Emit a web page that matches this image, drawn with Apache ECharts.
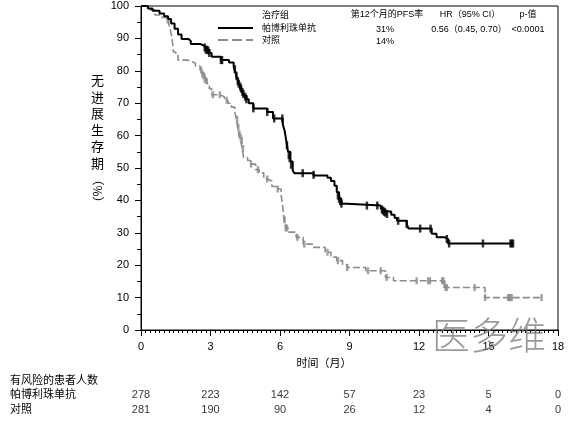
<!DOCTYPE html>
<html>
<head>
<meta charset="utf-8">
<script src="https://cdn.jsdelivr.net/npm/echarts@6/dist/echarts.min.js"></script>
<style>
  html, body { margin: 0; padding: 0; background: #fff; }
  #main { width: 572px; height: 424px; }
</style>
</head>
<body>
<div id="main"></div>
<script>
var FONT = 'Liberation Sans, Noto Sans CJK SC, sans-serif';

// KM steps [month, PFS %]
var pembroSteps = [[0,100],[0.3,99.2],[0.5,98.5],[0.8,97.7],[1.0,96.8],[1.17,96],[1.3,94.6],[1.45,93],[1.6,91.2],[1.75,89.8],
  [2.05,89.2],[2.15,88.3],[2.55,87.8],[2.7,87.2],[2.8,86.5],[2.95,85.5],[3.05,84.3],[3.45,83.3],[3.8,82.6],[4.0,81.2],
  [4.08,79.5],[4.15,77.5],[4.22,76],[4.3,74.8],[4.38,73.3],[4.45,72.3],[4.55,71.2],[4.65,70],[4.85,68.4],[5.45,67.3],
  [5.7,65.3],[6.12,63.5],[6.2,61.5],[6.28,58],[6.35,55],[6.45,52],[6.55,49.2],[6.62,48.4],[7.45,47.7],[8.05,47.0],
  [8.2,46],[8.35,44.5],[8.45,42.5],[8.55,40.5],[8.65,39],[8.9,38.4],[10.35,37.4],[10.5,36.6],[10.8,35.6],[10.95,34.6],
  [11.05,33.7],[11.47,32.7],[11.55,31.3],[12.55,29.7],[12.76,28.6],[13.12,28.1],[13.25,26.7],[16.06,26.7]];

var controlSteps = [[0,100],[0.2,99.5],[0.4,98.8],[0.6,97.2],[0.9,96.5],[1.1,95.7],[1.2,94.5],[1.27,92.5],[1.33,90.5],[1.37,88],
  [1.4,85.8],[1.5,84.8],[1.6,83.3],[2.0,82.8],[2.2,82.3],[2.35,81.5],[2.55,80.2],[2.65,79],[2.75,77.5],[2.85,76],
  [2.95,74.5],[3.05,72.6],[3.4,72],[3.6,70.9],[3.75,70],[3.9,68.8],[4.05,67.3],[4.12,65],[4.17,62.6],[4.22,60.5],
  [4.3,58.5],[4.37,56],[4.43,53.3],[4.6,52.3],[4.75,51.2],[4.95,49.5],[5.1,48.5],[5.3,46.6],[5.45,46],[5.65,44.3],
  [5.85,43.5],[6.05,41.5],[6.12,38],[6.17,34],[6.25,31.5],[6.35,30.2],[6.7,28.6],[7.0,26.5],[7.4,25.5],[7.95,24],
  [8.2,22.5],[8.45,21.4],[8.7,20.2],[8.9,19.3],[9.7,18.3],[10.55,16.2],[10.9,15.2],[13.1,13.1],[14.85,10.0],[17.29,10.0]];

// censored observations [month, PFS %]
var pembroCensor = [[2.75,87.2],[2.8,86.5],[2.85,86.5],[2.9,86.3],[2.95,85.5],[3.45,83.3],[3.5,83.3],[4.05,80.5],[4.12,78.5],
  [4.18,76.8],[4.22,76],[4.28,75.2],[4.32,74.5],[4.38,73.5],[4.42,72.8],[4.5,72],[4.55,71.2],[4.85,68.4],[5.45,67.3],
  [5.75,65.3],[6.1,65.3],[6.3,57],[6.38,54],[6.42,53],[6.48,51],[6.98,48.4],[7.45,47.9],[8.5,41.5],[8.55,40.5],
  [8.6,39.8],[8.65,39.0],[9.75,38.4],[10.2,38.4],[10.4,37.2],[10.45,36.8],[10.5,36.5],[10.55,36.2],[10.62,35.8],
  [11.1,33.7],[11.47,32.7],[12.05,31.3],[12.5,31.3],[13.2,28.1],[13.3,26.7],[14.76,26.7],[15.95,26.7],[16.0,26.7],[16.06,26.7]];

var controlCensor = [[1.15,95.7],[2.6,80.2],[2.65,79],[2.7,78.5],[2.75,77.5],[2.8,77],[3.1,72.6],[3.4,72.6],[3.7,70.9],
  [4.15,65],[4.2,62.6],[4.25,60.5],[4.3,59.5],[4.35,58.5],[4.4,56],[4.75,51.2],[5.05,49.5],[5.45,46.6],[5.9,43.5],
  [6.2,34],[6.25,31.5],[6.3,31.5],[6.75,28.6],[7.05,26.5],[8.05,24],[8.5,21.4],[8.9,19.3],[9.8,18.3],[10.35,18.3],
  [10.6,16.2],[11.9,15.2],[12.4,15.2],[12.47,15.2],[13.0,15.2],[13.05,15.2],[13.1,14],[13.15,13.1],[13.2,13.1],
  [14.4,13.1],[14.85,10],[15.85,10],[15.9,10],[15.95,10],[16.0,10],[17.29,10]];

// number at risk table
var riskTimes = [0, 3, 6, 9, 12, 15, 18];
var riskPembro = [278, 223, 142, 57, 23, 5, 0];
var riskControl = [281, 190, 90, 26, 12, 4, 0];
var groups = ['帕博利珠单抗', '对照'];

var chart = echarts.init(document.getElementById('main'));

function riskData(vals, grp) {
  return riskTimes.map(function (t, i) { return [t, grp, vals[i]]; });
}

var option = {
  animation: false,
  textStyle: { fontFamily: FONT },
  grid: [
    { left: 141, top: 6, width: 417, height: 324, show: true, borderColor: '#000', borderWidth: 1 },
    { left: 141, top: 387.5, width: 417, height: 30 }
  ],
  xAxis: [{
    gridIndex: 0, type: 'value', min: 0, max: 18, interval: 3,
    axisLine: { onZero: false, lineStyle: { color: '#000', width: 1 } },
    axisTick: { length: 6, lineStyle: { color: '#000' } },
    minorTick: { show: true, splitNumber: 15, length: 3, lineStyle: { color: '#000' } },
    splitLine: { show: false },
    axisLabel: { color: '#000', fontSize: 11, margin: 11, fontFamily: FONT }
  }, {
    gridIndex: 1, type: 'value', min: 0, max: 18, show: false
  }],
  yAxis: [{
    gridIndex: 0, type: 'value', min: 0, max: 100, interval: 10,
    axisLine: { show: true, lineStyle: { color: '#000', width: 1 } },
    axisTick: { show: true, length: 6, lineStyle: { color: '#000' } },
    minorTick: { show: true, splitNumber: 2, length: 4, lineStyle: { color: '#000' } },
    splitLine: { show: false },
    axisLabel: { color: '#000', fontSize: 11, margin: 12, fontFamily: FONT }
  }, {
    gridIndex: 1, type: 'category', data: groups, inverse: true,
    axisLine: { show: false }, axisTick: { show: false },
    axisLabel: { color: '#000', fontSize: 11, align: 'left', margin: 131, fontFamily: FONT }
  }],
  series: [{
    type: 'line', xAxisIndex: 0, yAxisIndex: 0, step: 'end', symbol: 'none',
    data: controlSteps, lineStyle: { color: '#8c8c8c', width: 1.6, type: [7, 3] }
  }, {
    type: 'scatter', xAxisIndex: 0, yAxisIndex: 0, symbol: 'rect', symbolSize: [2.5, 7],
    data: controlCensor, itemStyle: { color: '#8c8c8c' }
  }, {
    type: 'line', xAxisIndex: 0, yAxisIndex: 0, step: 'end', symbol: 'none',
    data: pembroSteps, lineStyle: { color: '#000', width: 2 }
  }, {
    type: 'scatter', xAxisIndex: 0, yAxisIndex: 0, symbol: 'rect', symbolSize: [2.5, 8],
    data: pembroCensor, itemStyle: { color: '#000' }
  }, {
    type: 'scatter', xAxisIndex: 1, yAxisIndex: 1, symbolSize: 0,
    data: riskData(riskPembro, groups[0]).concat(riskData(riskControl, groups[1])),
    label: {
      show: true, position: 'inside', color: '#000', fontSize: 11, fontFamily: FONT,
      formatter: function (p) { return p.value[2]; }
    }
  }],
  graphic: [
    // y axis title
    { type: 'text', left: 91, top: 72, style: { text: '无\n进\n展\n生\n存\n期', font: '13px Noto Sans CJK SC', fill: '#000', lineHeight: 16.5 } },
    { type: 'text', x: 98, y: 191, rotation: -Math.PI / 2, style: { text: '（%）', font: '12px Noto Sans CJK SC', fill: '#000', textAlign: 'center', textVerticalAlign: 'middle' } },
    // x axis title
    { type: 'text', x: 324, y: 363, style: { text: '时间（月）', font: '11px Noto Sans CJK SC', fill: '#000', textAlign: 'center', textVerticalAlign: 'middle' } },
    // risk table header
    { type: 'text', x: 10, y: 380, style: { text: '有风险的患者人数', font: '11px Noto Sans CJK SC', fill: '#000', textVerticalAlign: 'middle' } },
    // legend / summary table
    { type: 'line', shape: { x1: 218, y1: 28, x2: 253, y2: 28 }, style: { stroke: '#000', lineWidth: 2 } },
    { type: 'line', shape: { x1: 218, y1: 40, x2: 253, y2: 40 }, style: { stroke: '#8c8c8c', lineWidth: 2, lineDash: [10, 4] } },
    { type: 'text', x: 262, y: 15, style: { text: '治疗组', font: '9px Noto Sans CJK SC', fill: '#000', textVerticalAlign: 'middle' } },
    { type: 'text', x: 262, y: 28, style: { text: '帕博利珠单抗', font: '9px Noto Sans CJK SC', fill: '#000', textVerticalAlign: 'middle' } },
    { type: 'text', x: 262, y: 40, style: { text: '对照', font: '9px Noto Sans CJK SC', fill: '#000', textVerticalAlign: 'middle' } },
    { type: 'text', x: 387, y: 15, style: { text: '第12个月的PFS率', font: '9px ' + FONT, fill: '#000', textAlign: 'center', textVerticalAlign: 'middle' } },
    { type: 'text', x: 385, y: 30, style: { text: '31%', font: '9px ' + FONT, fill: '#000', textAlign: 'center', textVerticalAlign: 'middle' } },
    { type: 'text', x: 385, y: 42, style: { text: '14%', font: '9px ' + FONT, fill: '#000', textAlign: 'center', textVerticalAlign: 'middle' } },
    { type: 'text', x: 470, y: 15, style: { text: 'HR（95% CI）', font: '9px ' + FONT, fill: '#000', textAlign: 'center', textVerticalAlign: 'middle' } },
    { type: 'text', x: 469, y: 30, style: { text: '0.56（0.45, 0.70）', font: '9px ' + FONT, fill: '#000', textAlign: 'center', textVerticalAlign: 'middle' } },
    { type: 'text', x: 528, y: 15, style: { text: 'p-值', font: '9px ' + FONT, fill: '#000', textAlign: 'center', textVerticalAlign: 'middle' } },
    { type: 'text', x: 528, y: 30, style: { text: '<0.0001', font: '9px ' + FONT, fill: '#000', textAlign: 'center', textVerticalAlign: 'middle' } },
    // watermark
    { type: 'text', x: 489, y: 335, z: 100, style: { text: '医多维', font: '300 38px Noto Sans CJK SC', fill: 'rgba(120,120,120,0.75)', textAlign: 'center', textVerticalAlign: 'middle' } }
  ]
};

chart.setOption(option);
window.onresize = chart.resize;
</script>
</body>
</html>
